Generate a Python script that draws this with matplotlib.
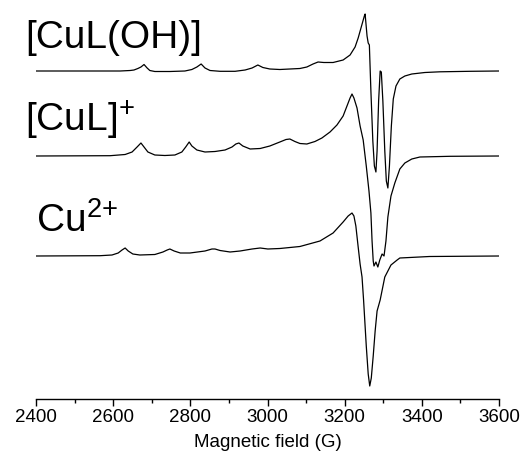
import matplotlib
matplotlib.use('Agg')
import matplotlib.pyplot as plt
from matplotlib.ticker import MultipleLocator

plt.rcParams['font.family'] = ['Liberation Sans', 'DejaVu Sans']
plt.rcParams['mathtext.fontset'] = 'custom'
plt.rcParams['mathtext.rm'] = 'Liberation Sans'

# spectra: field (G) and signal (arb. units, 0 = baseline)
field_cuoh = [2400, 2618, 2644, 2654, 2664, 2672, 2680, 2688, 2695, 2708, 2747, 2786,
              2804, 2817, 2828, 2838, 2851, 2877, 2916, 2942, 2960, 2975, 2988, 3006,
              3032, 3058, 3084, 3102, 3118, 3131, 3146, 3170, 3196, 3214, 3227, 3235,
              3243, 3251, 3253, 3258, 3261, 3264, 3268, 3273, 3277, 3281, 3284, 3288,
              3292, 3295, 3299, 3304, 3308, 3312, 3316, 3321, 3326, 3333, 3343, 3356,
              3374, 3408, 3447, 3525, 3600]
sig_cuoh = [0, 0, 0.5, 1, 2.5, 4, 6.5, 3, 0.5, -0.5, -0.5, 0,
            1.5, 4, 7, 3, 0.5, -0.3, -0.3, 1, 3, 6, 3.5, 2,
            1.5, 2, 2.5, 4, 7, 9, 8.5, 8.5, 11, 16, 24, 33,
            44, 55, 57, 35, 28, 26, -20, -70, -95, -101, -80, -30,
            0, -1, -30, -80, -110, -117, -95, -55, -28, -15, -8, -5,
            -3, -1.5, -0.8, -0.3, 0]

field_cul = [2400, 2592, 2631, 2649, 2662, 2672, 2680, 2690, 2708, 2734, 2760, 2778,
             2788, 2797, 2804, 2817, 2838, 2864, 2890, 2908, 2918, 2926, 2936, 2955,
             2981, 3006, 3032, 3048, 3058, 3071, 3084, 3102, 3123, 3141, 3162, 3180,
             3196, 3206, 3214, 3219, 3224, 3232, 3240, 3248, 3256, 3263, 3268, 3271,
             3274, 3276, 3281, 3286, 3291, 3297, 3302, 3307, 3312, 3320, 3330, 3343,
             3356, 3374, 3395, 3473, 3600]
sig_cul = [0, 0.3, 1.5, 4, 9, 13, 9, 4, 1, 0.5, 1, 4,
           9, 14, 10, 6, 4, 4.5, 6, 9, 12, 13, 10, 7,
           7.5, 10, 14, 16.5, 17, 14.5, 12.5, 12, 14.5, 18, 24, 31,
           40, 50, 58, 62, 58, 48, 30, 16, -10, -35, -57, -85,
           -105, -110, -106, -111, -104, -98, -100, -85, -61, -40, -27, -13,
           -7, -3, -1, -0.3, 0]

field_cu = [2400, 2566, 2597, 2613, 2623, 2631, 2639, 2651, 2669, 2708, 2729, 2740,
            2747, 2758, 2774, 2799, 2838, 2856, 2864, 2877, 2903, 2929, 2960, 2981,
            3001, 3032, 3084, 3136, 3170, 3196, 3209, 3219, 3224, 3229, 3235, 3240,
            3245, 3249, 3256, 3261, 3265, 3269, 3274, 3279, 3284, 3292, 3304, 3320,
            3336, 3343, 3420, 3600]
sig_cu = [0, 0.3, 1, 3, 6, 8, 5, 2, 1, 1.5, 4, 6,
          7, 5, 3, 3, 5, 7, 7, 5.5, 4, 5, 7, 8,
          7, 7.5, 9.5, 15, 23, 34, 40, 43, 40, 30, 9, -8,
          -21, -44, -90, -118, -130, -122, -100, -75, -55, -44, -21, -9,
          -4, -2, -0.5, 0]

names = ['[CuL(OH)]', '[CuL]$^{+}$', 'Cu$^{2{+}}$']
ticks = [2400, 2600, 2800, 3000, 3200, 3400, 3600]

fig = plt.figure(figsize=(5.25, 4.69), dpi=100)
ax = fig.add_axes([36 / 525, 70 / 469, 463 / 525, 394 / 469])

# vertical offsets of the three traces
offs = [328, 243, 143]
ax.plot(field_cuoh, [v + offs[0] for v in sig_cuoh], color='k', lw=0.9)
ax.plot(field_cul, [v + offs[1] for v in sig_cul], color='k', lw=0.9)
ax.plot(field_cu, [v + offs[2] for v in sig_cu], color='k', lw=0.9)

# labels
ax.text(2372, 351, names[0], fontsize=28, va='baseline', ha='left')
ax.text(2372, 268, names[1], fontsize=28, va='baseline', ha='left')
ax.text(2400, 167, names[2], fontsize=28, va='baseline', ha='left')

ax.set_xlim(2400, 3600)
ax.set_ylim(0, 394)
ax.set_xticks(ticks)
ax.set_xticklabels([str(t) for t in ticks])
ax.xaxis.set_minor_locator(MultipleLocator(100))
ax.tick_params(axis='x', which='major', direction='out', length=5, width=1, labelsize=13.5, pad=2)
ax.tick_params(axis='x', which='minor', direction='out', length=3, width=1)
ax.set_yticks([])
for s in ['left', 'right', 'top']:
    ax.spines[s].set_visible(False)
ax.spines['bottom'].set_linewidth(1.0)
ax.set_xlabel('Magnetic field (G)', fontsize=13.5, labelpad=6)
ax.patch.set_alpha(0)

fig.savefig('out.png', dpi=100)
